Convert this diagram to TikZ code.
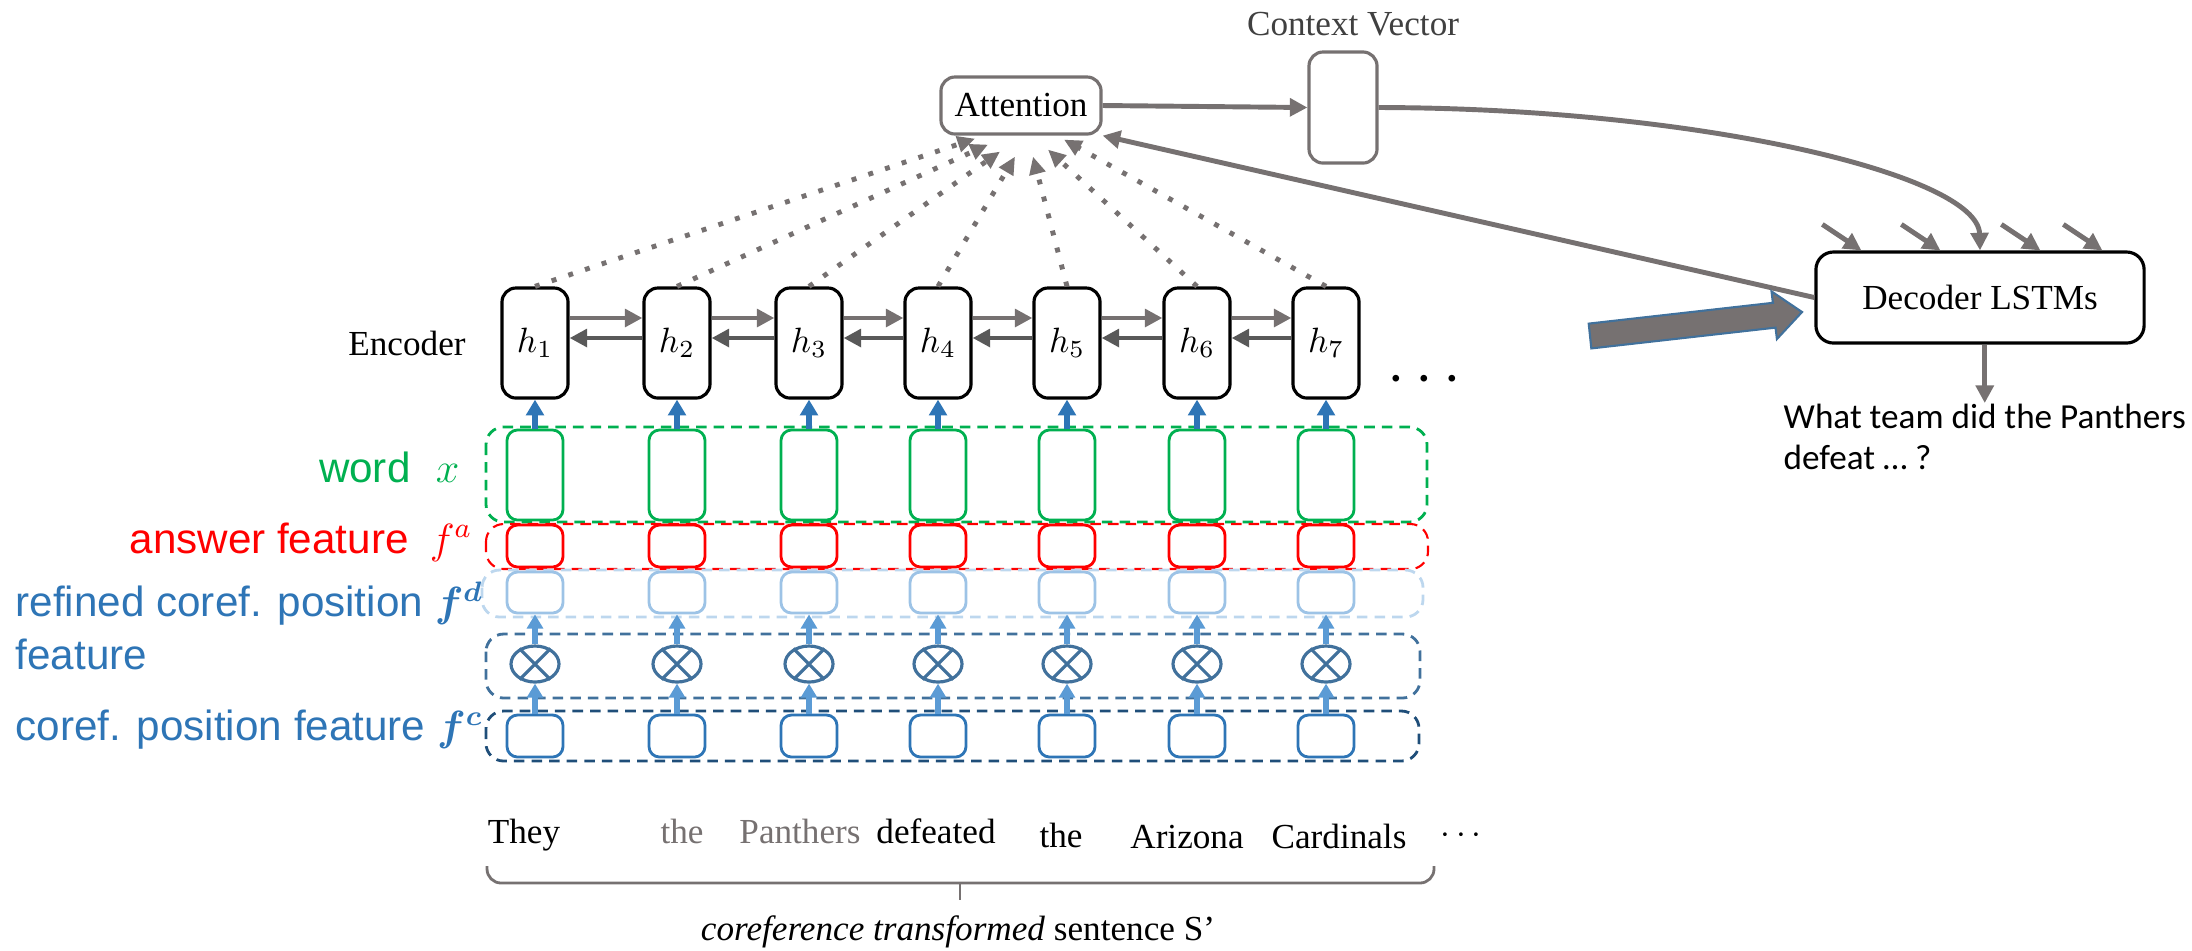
\documentclass[tikz,border=0pt]{standalone}
\usepackage{amsmath,amssymb}
\usepackage{fontspec}
\setmainfont{Liberation Serif}
\newfontfamily\labelfont{Liberation Sans}
\newfontfamily\questfont{Carlito}
\usepackage{tikz}
\usetikzlibrary{arrows.meta,shapes.geometric}

\definecolor{arrgray}{RGB}{118,113,113}
\definecolor{darkarr}{RGB}{89,89,89}
\definecolor{ctxgray}{RGB}{64,64,64}
\definecolor{wordgreen}{RGB}{0,176,80}
\definecolor{ansred}{RGB}{255,0,0}
\definecolor{lightblue}{RGB}{157,195,230}
\definecolor{lightdash}{RGB}{189,215,238}
\definecolor{midblue}{RGB}{91,155,213}
\definecolor{corefblue}{RGB}{46,117,182}
\definecolor{otimesblue}{RGB}{65,113,156}
\definecolor{darkblue}{RGB}{31,78,121}

\tikzset{
  hbox/.style={draw=black, line width=0.9pt, rounded corners=4pt, minimum width=0.66cm, minimum height=1.1cm, inner sep=0pt},
  graybox/.style={draw=arrgray, line width=0.9pt, rounded corners=4pt, inner sep=0pt},
  featbox/.style={line width=0.8pt, rounded corners=3pt, minimum width=0.56cm, inner sep=0pt},
  rowdash/.style={line width=0.8pt, dash pattern=on 3pt off 2pt, rounded corners=5pt},
  lbl/.style={font=\labelfont\fontsize{12}{15}\selectfont, inner sep=0pt},
  grayarr/.style={draw=arrgray, line width=1.4pt, -{Triangle[length=5pt,width=5pt]}},
  backarr/.style={draw=darkarr, line width=1.4pt, -{Triangle[length=5pt,width=5pt]}},
  uparr/.style={draw=corefblue, line width=1.7pt, -{Triangle[length=4.5pt,width=5pt]}},
  smallup/.style={draw=midblue, line width=1.5pt, -{Triangle[length=4pt,width=4.5pt]}},
  attdot/.style={draw=arrgray, line width=1.4pt, dash pattern=on 1.4pt off 3.6pt, -{Triangle[length=5pt,width=4.5pt]}}
}

\begin{document}
\begin{tikzpicture}[x=0.01cm, y=-0.01cm, font=\fontsize{10}{12}\selectfont]
    \useasboundingbox (0,0) rectangle (2192,950);

    % row frames
    \draw[rowdash, draw=wordgreen] (486,427) rectangle (1427,522);
    \draw[rowdash, draw=ansred, line width=0.6pt] (486,524) rectangle (1428,569);
    \draw[rowdash, draw=lightdash] (482,570) rectangle (1423,617);
    \draw[rowdash, draw=otimesblue] (486,634) rectangle (1420,698);
    \draw[rowdash, draw=darkblue] (486,711) rectangle (1419,761);

    % columns
    \foreach \i/\cx in {1/535,2/677,3/809,4/938,5/1067,6/1197,7/1326} {
        \node[hbox] (h\i) at (\cx,343) {$h_{\i}$};
        \node[featbox, draw=wordgreen, minimum height=0.9cm] (w\i) at (\cx,475) {};
        \node[featbox, draw=ansred, minimum height=0.42cm] (a\i) at (\cx,546) {};
        \node[featbox, draw=lightblue, minimum height=0.41cm] (d\i) at (\cx,592.5) {};
        \node[ellipse, draw=otimesblue, line width=0.9pt, minimum width=0.48cm, minimum height=0.36cm, inner sep=0pt] (o\i) at (\cx,664) {};
        \draw[otimesblue, line width=0.9pt] (o\i.45) -- (o\i.225) (o\i.135) -- (o\i.315);
        \node[featbox, draw=corefblue, minimum height=0.42cm] (c\i) at (\cx,736) {};
        \draw[uparr] (w\i.north) -- (h\i.south);
        \draw[smallup] (o\i.north) -- (d\i.south);
        \draw[smallup] (c\i.north) -- (o\i.south);
    }

    % bidirectional encoder
    \foreach \i/\j in {1/2,2/3,3/4,4/5,5/6,6/7} {
        \draw[grayarr] ([yshift=0.25cm]h\i.east) -- ([yshift=0.25cm]h\j.west);
        \draw[backarr] ([yshift=0.05cm]h\j.west) -- ([yshift=0.05cm]h\i.east);
    }
    \node[anchor=east] (enc) at (478,343) {Encoder};
    \node[scale=1.8] (hdots) at (1430,380) {$\cdots$};

    % attention and context
    \node[graybox, minimum width=1.6cm, minimum height=0.57cm] (att) at (1021,105.5) {Attention};
    \node[graybox, minimum width=0.68cm, minimum height=1.11cm] (ctx) at (1343,107.5) {};
    \node[text=ctxgray, anchor=base] (ctxlbl) at (1353,35) {Context Vector};
    \foreach \i/\dx/\dy in {1/-46/3,2/-33/9,3/-21/16,4/-6/21,5/12/21,6/27/14,7/43/4}
        \draw[attdot] (h\i.north) -- ([shift={(\dx,\dy)}]att.south);
    \draw[grayarr] (att.east) -- (ctx.west);

    % decoder
    \node[draw=black, line width=0.9pt, rounded corners=5pt, minimum width=3.28cm, minimum height=0.91cm] (dec) at (1980,297.5) {Decoder LSTMs};
    \draw[grayarr] (ctx.east) .. controls (1700,108) and (1978,175) .. (dec.north);
    \foreach \dx in {47,126,226,288}
        \draw[grayarr] ([xshift=\dx*0.01cm-0.39cm, yshift=0.26cm]dec.north west) -- ([xshift=\dx*0.01cm]dec.north west);
    \draw[grayarr] (dec.west) -- (att.south east);
    \draw[draw=otimesblue, fill=arrgray, line width=0.6pt]
        (1588.7,323.6) -- (1772.9,302.8) -- (1771.5,291.4) -- (1802,312)
        -- (1776.9,339.0) -- (1775.5,327.6) -- (1591.3,348.4) -- cycle;
    \node[anchor=north west, align=left, inner sep=0pt, font=\questfont\fontsize{10}{11.7}\selectfont] (quest) at (1783,403) {What team did the Panthers\\defeat … ?};
    \draw[grayarr] (dec.south -| quest.north) -- (quest.north);

    % feature labels
    \node[lbl, text=wordgreen, anchor=east] (lword) at (460,467) {word\hspace{0.6em}$x$};
    \node[lbl, text=ansred, anchor=east] (lans) at (473,542) {answer feature\hspace{0.5em}$f^{a}$};
    \node[lbl, text=corefblue, anchor=west, align=left] (lref) at (15,626) {refined coref. position $\boldsymbol{f^{d}}$\\feature};
    \node[lbl, text=corefblue, anchor=west] (lcoref) at (15,730) {coref. position feature $\boldsymbol{f^{c}}$};

    % sentence
    \node[anchor=base] (wd1) at (524,843) {They};
    \node[anchor=base, text=arrgray] (wd2) at (682,843) {the};
    \node[anchor=base, text=arrgray] (wd3) at (800,843) {Panthers};
    \node[anchor=base] (wd4) at (936,843) {defeated};
    \node[anchor=base] (wd5) at (1061,847) {the};
    \node[anchor=base] (wd6) at (1187,848) {Arizona};
    \node[anchor=base] (wd7) at (1339,848) {Cardinals};
    \node[anchor=base] (wd8) at (1464,843) {$\cdots$};
    \draw[arrgray, line width=0.8pt, rounded corners=4pt] (487,866) -- (487,883) -- (1434,883) -- (1434,866);
    \draw[arrgray, line width=0.8pt] (960,883) -- (960,900);
    \node[anchor=base] (sent) at (958,940) {\textit{coreference transformed} sentence S’};
\end{tikzpicture}
\end{document}
